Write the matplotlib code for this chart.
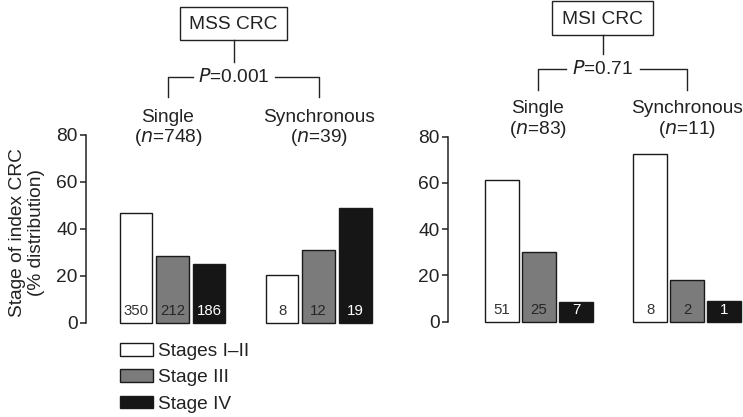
import matplotlib
matplotlib.use("Agg")
import matplotlib.pyplot as plt
from matplotlib.patches import Patch, Rectangle
from matplotlib.lines import Line2D

plt.rcParams["font.family"] = ["Liberation Sans", "DejaVu Sans"]

# data
stages = ["Stages I\u2013II", "Stage III", "Stage IV"]
mss_single_n = [350, 212, 186]
mss_sync_n = [8, 12, 19]
msi_single_n = [51, 25, 7]
msi_sync_n = [8, 2, 1]
mss_single_pct = [46.8, 28.3, 24.9]
mss_sync_pct = [20.5, 30.8, 48.7]
msi_single_pct = [61.4, 30.1, 8.4]
msi_sync_pct = [72.7, 18.2, 9.1]
yticks = [0, 20, 40, 60, 80]

colors = ["white", "#7b7b7b", "#161616"]
num_colors = ["#333333", "#262626", "white"]
ink = "#222222"
FS = 13.8
W, H = 743, 417

fig = plt.figure(figsize=(W / 100, H / 100), dpi=100)


def px(x, y):
    return x / W, 1 - y / H


def panel(rect, xlim, single_pct, single_n, sync_pct, sync_n):
    ax = fig.add_axes(rect)
    for grp, (pcts, ns) in enumerate([(single_pct, single_n), (sync_pct, sync_n)]):
        for i, (p, n) in enumerate(zip(pcts, ns)):
            x = grp * 4 + i
            ax.bar(x, p, width=0.9, color=colors[i], edgecolor="#1a1a1a",
                   linewidth=1.0, clip_on=False)
            ax.text(x, 2.0, str(n), ha="center", va="bottom", fontsize=10.8,
                    color=num_colors[i])
    ax.set_xlim(*xlim)
    ax.set_ylim(0, 80)
    ax.set_yticks(yticks)
    ax.tick_params(axis="y", labelsize=FS, colors=ink, length=4, width=1.1, pad=2)
    ax.set_xticks([])
    for s in ["top", "right", "bottom"]:
        ax.spines[s].set_visible(False)
    ax.spines["left"].set_color(ink)
    ax.spines["left"].set_linewidth(1.1)
    ax.patch.set_visible(False)
    return ax


ax1 = panel([86 / W, (H - 322.7) / H, 291 / W, 188 / H], (-1.37, 6.6),
            mss_single_pct, mss_single_n, mss_sync_pct, mss_sync_n)
ax1.set_ylabel("Stage of index CRC\n(% distribution)", fontsize=FS,
               color=ink, linespacing=1.2, va="center")
ax1.yaxis.set_label_coords(-59 / 291, 0.48)
ax2 = panel([448 / W, (H - 321.7) / H, 294.5 / W, 185 / H], (-1.46, 6.5),
            msi_single_pct, msi_single_n, msi_sync_pct, msi_sync_n)


def header(label, p, box, stem_bottom, bracket_y, left_x, right_x, end_y,
           gap, lab_y, ns):
    x0, y0, x1, y1 = box
    cx = (x0 + x1) / 2
    fig.add_artist(Rectangle(px(x0, y1), (x1 - x0) / W, (y1 - y0) / H,
                             transform=fig.transFigure, facecolor="white",
                             edgecolor=ink, linewidth=1.0))
    fig.text(*px(cx, (y0 + y1) / 2 + 1), label, ha="center", va="center",
             fontsize=FS, color=ink)
    lines = [
        [(cx, y1), (cx, stem_bottom)],
        [(left_x, end_y), (left_x, bracket_y), (cx - gap, bracket_y)],
        [(cx + gap, bracket_y), (right_x, bracket_y), (right_x, end_y)],
    ]
    for pts in lines:
        xs = [px(a, b)[0] for a, b in pts]
        ys = [px(a, b)[1] for a, b in pts]
        fig.add_artist(Line2D(xs, ys, color=ink, linewidth=1.0,
                              transform=fig.transFigure))
    fig.text(*px(cx, bracket_y), "$\\it{P}$=" + p, ha="center", va="center",
             fontsize=FS, color=ink)
    for x, name, n in [(left_x, "Single", ns[0]), (right_x, "Synchronous", ns[1])]:
        fig.text(*px(x, lab_y), name, ha="center", va="center",
                 fontsize=FS, color=ink)
        fig.text(*px(x, lab_y + 21), "($\\it{n}$=" + str(n) + ")", ha="center",
                 va="center", fontsize=FS, color=ink)


header("MSS CRC", "0.001", (180, 7, 287, 40), 62, 77, 168, 319, 97, 41, 117,
       (748, 39))
header("MSI CRC", "0.71", (552, 1, 653, 35), 54, 69, 538, 687, 90, 37, 109,
       (83, 11))

handles = [Patch(facecolor=c, edgecolor="#1a1a1a", linewidth=1.0) for c in colors]
fig.legend(handles, stages, loc="upper left", bbox_to_anchor=px(120, 343),
           frameon=False, fontsize=FS, handlelength=1.7, handleheight=0.64,
           labelspacing=0.48, handletextpad=0.3, labelcolor=ink,
           borderpad=0, borderaxespad=0)

fig.savefig("out.png", dpi=100)
